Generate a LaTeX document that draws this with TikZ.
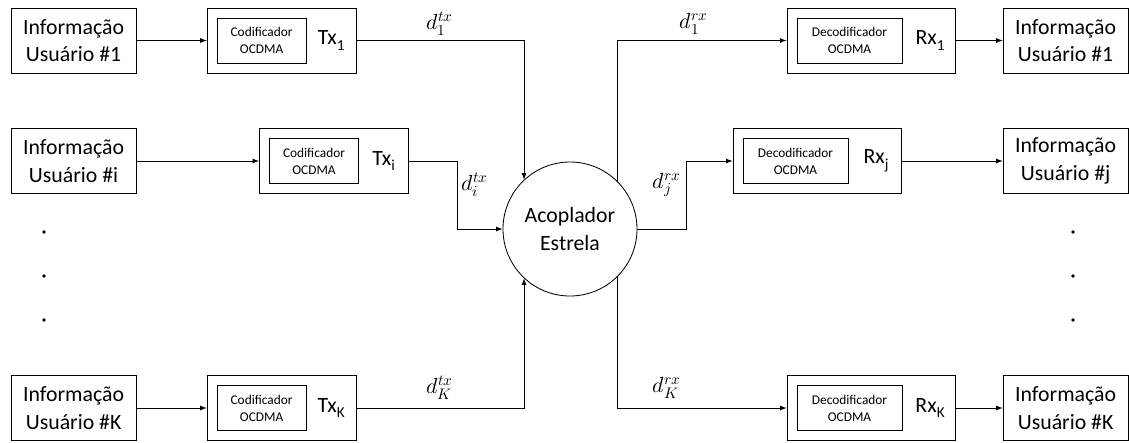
\documentclass[tikz,border=0pt]{standalone}
\usepackage{fontspec}
\usepackage{unicode-math}
\setmainfont{Carlito}
\usetikzlibrary{arrows,positioning,calc}
\newcommand{\bigtxt}{\fontsize{15.5}{19.5}\selectfont}
\newcommand{\smalltxt}{\fontsize{9.5}{12}\selectfont}

\begin{document}
\begin{tikzpicture}[info/.style={draw,minimum width=3.125cm,minimum height=1.625cm,align=center,font=\bigtxt,inner sep=0pt},
  txbox/.style={draw,minimum width=3.725cm,minimum height=1.625cm},
  rxbox/.style={draw,minimum width=4.2cm,minimum height=1.625cm},
  codbox/.style={draw,minimum width=2.225cm,minimum height=1.125cm,align=center,font=\smalltxt,inner sep=0pt},
  decbox/.style={codbox,minimum width=2.625cm},
  lbl/.style={font=\bigtxt,inner sep=0pt},
  >=latex, line width=0.6pt]
  \useasboundingbox (0,0) rectangle (28.225,-11.05);

  % Users on the transmitter side
  \node[info] (u1) at (1.84,-1.0125) {Informação\\Usuário \#1};
  \node[info] (ui) at (1.84,-4.025) {Informação\\Usuário \#i};
  \node[info] (uK) at (1.84,-10.2) {Informação\\Usuário \#K};
  \foreach \y in {-5.8,-6.9,-8.0} \fill (1.1,\y) circle (1.4pt);

  % Transmitters
  \node[txbox] (tx1) at (7.04,-1.0125) {};
  \node[codbox,right=0.25 of tx1.west] (cod1) {Codificador\\OCDMA};
  \node[lbl] (ltx1) at ($(tx1.east)+(-0.625,0)$) {Tx\textsubscript{1}};
  \node[txbox] (txi) at (8.35,-4.025) {};
  \node[codbox,right=0.25 of txi.west] (codi) {Codificador\\OCDMA};
  \node[lbl] (ltxi) at ($(txi.east)+(-0.625,0)$) {Tx\textsubscript{i}};
  \node[txbox] (txK) at (7.04,-10.2) {};
  \node[codbox,right=0.25 of txK.west] (codK) {Codificador\\OCDMA};
  \node[lbl] (ltxK) at ($(txK.east)+(-0.625,0)$) {Tx\textsubscript{K}};

  % Star coupler
  \node[draw,circle,minimum size=3.35cm,align=center,font=\bigtxt,inner sep=0pt] (acop) at (14.25,-5.725) {Acoplador\\Estrela};

  % Receivers
  \node[rxbox] (rx1) at (21.775,-1.0125) {};
  \node[decbox,right=0.25 of rx1.west] (dec1) {Decodificador\\OCDMA};
  \node[lbl] (lrx1) at ($(rx1.east)+(-0.625,0)$) {Rx\textsubscript{1}};
  \node[rxbox] (rxj) at (20.425,-4.025) {};
  \node[decbox,right=0.25 of rxj.west] (decj) {Decodificador\\OCDMA};
  \node[lbl] (lrxj) at ($(rxj.east)+(-0.625,0)$) {Rx\textsubscript{j}};
  \node[rxbox] (rxK) at (21.775,-10.2) {};
  \node[decbox,right=0.25 of rxK.west] (decK) {Decodificador\\OCDMA};
  \node[lbl] (lrxK) at ($(rxK.east)+(-0.625,0)$) {Rx\textsubscript{K}};

  % Users on the receiver side
  \node[info] (v1) at (26.64,-1.0125) {Informação\\Usuário \#1};
  \node[info] (vj) at (26.64,-4.025) {Informação\\Usuário \#j};
  \node[info] (vK) at (26.64,-10.2) {Informação\\Usuário \#K};
  \foreach \y in {-5.8,-6.9,-8.0} \fill (26.825,\y) circle (1.4pt);

  % Fibre labels
  \node[lbl] (d1t) at (11.0,-0.6) {$d_1^{tx}$};
  \node[lbl] (dit) at (11.875,-4.625) {$d_i^{tx}$};
  \node[lbl] (dKt) at (11.0,-9.7) {$d_K^{tx}$};
  \node[lbl] (d1r) at (17.35,-0.6) {$d_1^{rx}$};
  \node[lbl] (djr) at (16.675,-4.625) {$d_j^{rx}$};
  \node[lbl] (dKr) at (16.675,-9.7) {$d_K^{rx}$};

  % Arrows
  \path[->]
    (u1) edge (tx1)
    (ui) edge (txi)
    (uK) edge (txK)
    (rx1) edge (v1)
    (rxj) edge (vj)
    (rxK) edge (vK);
  \draw[->] (tx1.east) -| (acop.133);
  \draw[->] (txi.east) -- ++(1.2,0) |- (acop.west);
  \draw[->] (txK.east) -| (acop.-133);
  \draw[->] (acop.45) |- (rx1.west);
  \draw[->] (acop.east) -- ++(1.225,0) |- (rxj.west);
  \draw[->] (acop.-45) |- (rxK.west);
\end{tikzpicture}
\end{document}
